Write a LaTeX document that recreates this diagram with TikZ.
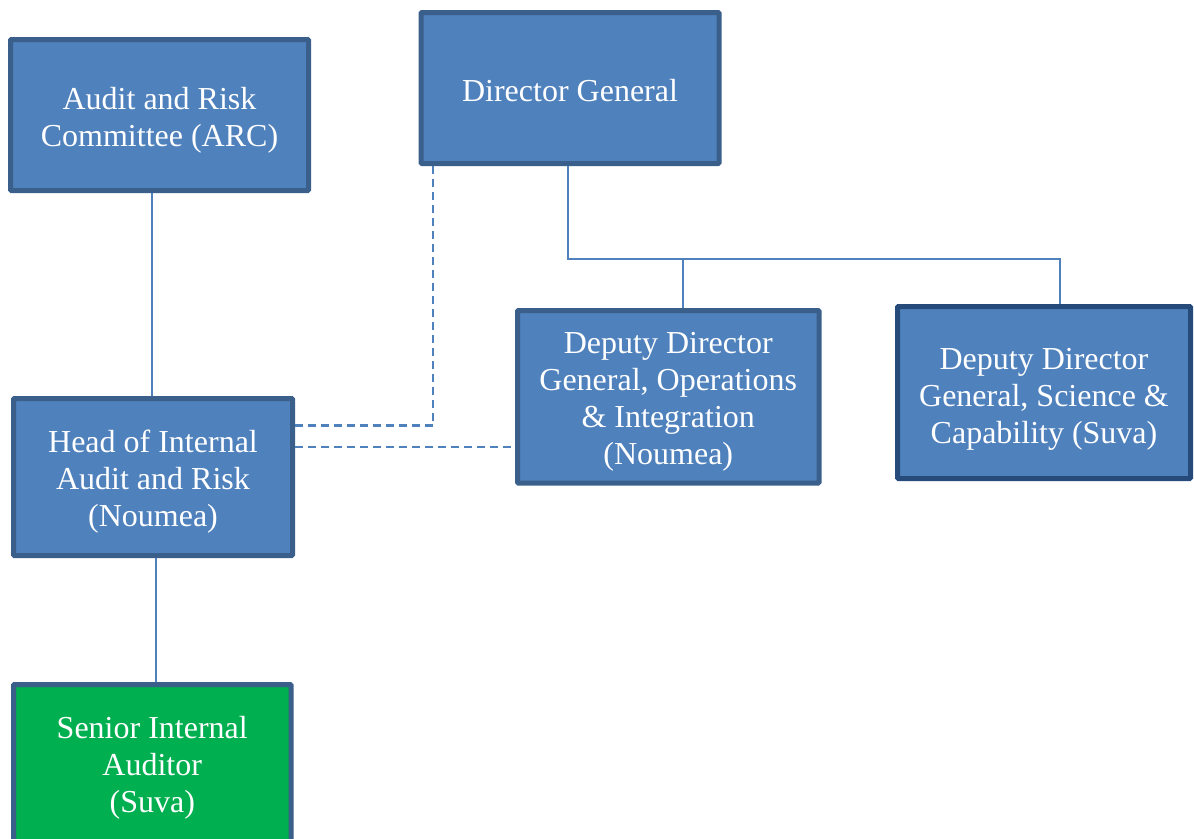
\documentclass[tikz,border=0pt]{standalone}
\usepackage{fontspec}
\setmainfont{Liberation Serif}
\definecolor{boxfill}{HTML}{4F81BD}
\definecolor{boxline}{HTML}{3A5F8B}
\definecolor{boxlinedark}{HTML}{264A7A}
\definecolor{greenfill}{HTML}{00AF4F}
\definecolor{connc}{HTML}{4F81BD}
\newcommand{\lowertext}{\rule{0pt}{32pt}}
\begin{document}
\begin{tikzpicture}[x=1pt,y=-1pt,
  orgbox/.style={draw=boxline,fill=boxfill,line width=5pt,rounded corners=1pt,
    rectangle,inner sep=0pt,align=center,text=white,
    font=\fontsize{32}{37}\selectfont},
  conn/.style={draw=connc,line width=2pt},
  dconn/.style={draw=connc,line width=2.5pt,dash pattern=on 8pt off 5pt}]
\useasboundingbox (0,0) rectangle (1194,838);
\clip (0,0) rectangle (1194,838);
\node[orgbox,minimum width=298pt,minimum height=151pt] (arc) at (159.5,115) {\lowertext Audit and Risk\\Committee (ARC)};
\node[orgbox,minimum width=298pt,minimum height=151pt] (dg) at (570,88) {\rule{0pt}{28pt}Director General};
\node[orgbox,minimum width=279pt,minimum height=157pt] (head) at (153,477) {\lowertext Head of Internal\\Audit and Risk\\(Noumea)};
\node[orgbox,minimum width=301.5pt,minimum height=172.5pt] (ops) at (668.25,396.75) {\lowertext Deputy Director\\General, Operations\\\& Integration\\(Noumea)};
\node[orgbox,draw=boxlinedark,minimum width=293pt,minimum height=172pt] (sci) at (1044,392.5) {\rule{0pt}{34pt}Deputy Director\\General, Science \&\\Capability (Suva)};
\node[orgbox,fill=greenfill,minimum width=277.5pt,minimum height=160pt] (senior) at (152.25,764.5) {\rule{0pt}{28pt}Senior Internal\\Auditor\\(Suva)};
% solid connectors
\draw[conn] ([xshift=-1pt]head.north) -- ([xshift=-1pt]head.north |- arc.south);
\draw[conn] ([xshift=2.5pt]head.south) -- ([xshift=2.5pt]head.south |- senior.north);
\coordinate (bus) at (568,259);
\draw[conn] ([xshift=-2pt]dg.south) -- (bus) -| ([xshift=16pt]sci.north);
\draw[conn] ([xshift=15pt]ops.north) -- ([xshift=15pt]ops.north |- bus);
% dashed connectors
\coordinate (d1) at (433,425.5);
\draw[dconn] (dg.south -| d1) -- (d1) -- (head.east |- d1);
\coordinate (d2) at (300,447);
\draw[dconn] (head.east |- d2) -- (ops.west |- d2);
\end{tikzpicture}
\end{document}
